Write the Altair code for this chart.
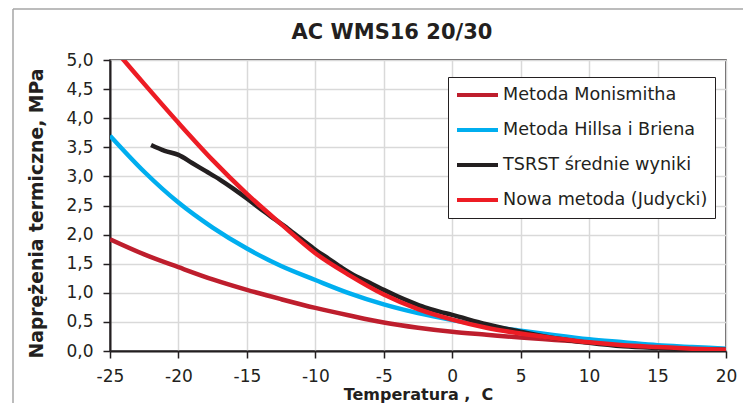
import altair as alt
import pandas as pd

# Series: temperature (C) and thermal stress (MPa)
monismith_t = [-25, -22.5, -20, -17.5, -15, -12.5, -10, -7.5, -5, -2.5, 0, 2.5, 5, 7.5, 10, 12.5, 15, 17.5, 20]
monismith_v = [1.92, 1.66, 1.44, 1.23, 1.05, 0.89, 0.74, 0.61, 0.49, 0.40, 0.33, 0.28, 0.23, 0.19, 0.15, 0.11, 0.08, 0.05, 0.03]

hills_t = [-25, -22.5, -20, -17.5, -15, -12.5, -10, -7.5, -5, -2.5, 0, 2.5, 5, 7.5, 10, 12.5, 15, 17.5, 20]
hills_v = [3.70, 3.08, 2.55, 2.12, 1.76, 1.46, 1.22, 0.99, 0.80, 0.65, 0.53, 0.43, 0.35, 0.27, 0.20, 0.15, 0.10, 0.07, 0.04]

tsrst_t = [-22, -21, -20, -19, -18, -17, -16, -15, -14, -13, -12, -11, -10, -9, -8, -7, -6, -5, -4, -3, -2, -1, 0,
           2.5, 5, 7.5, 10, 12.5, 15, 17.5, 20]
tsrst_v = [3.54, 3.44, 3.37, 3.23, 3.09, 2.95, 2.79, 2.62, 2.44, 2.27, 2.10, 1.92, 1.74, 1.58, 1.42, 1.28, 1.17, 1.05,
           0.94, 0.84, 0.75, 0.68, 0.62, 0.46, 0.33, 0.22, 0.14, 0.08, 0.05, 0.03, 0.02]

judycki_t = [-25, -24, -22.5, -20, -17.5, -15, -12.5, -10, -7.5, -5, -2.5, 0, 2.5, 5, 7.5, 10, 12.5, 15, 17.5, 20]
judycki_v = [5.27, 5.0, 4.59, 3.92, 3.28, 2.70, 2.18, 1.68, 1.30, 0.97, 0.72, 0.54, 0.40, 0.30, 0.22, 0.15, 0.10, 0.07, 0.04, 0.02]

series_names = ["Metoda Monismitha", "Metoda Hillsa i Briena", "TSRST średnie wyniki", "Nowa metoda (Judycki)"]
series_colors = ["#BE1E2D", "#00AEEF", "#231F20", "#ED1C24"]

x_ticks = [-25, -20, -15, -10, -5, 0, 5, 10, 15, 20]
y_ticks = [0, 0.5, 1, 1.5, 2, 2.5, 3, 3.5, 4, 4.5, 5]

chart_title = "AC WMS16 20/30"

rows = []
for name, ts, vs in zip(series_names,
                        [monismith_t, hills_t, tsrst_t, judycki_t],
                        [monismith_v, hills_v, tsrst_v, judycki_v]):
    for t, v in zip(ts, vs):
        rows.append({"Temperatura": t, "Naprezenie": v, "Seria": name})
df = pd.DataFrame(rows)

FONT = "DejaVu Sans"
INK = "#231F20"

lines = alt.Chart(df).mark_line(strokeWidth=4.5, interpolate="monotone", clip=True).encode(
    x=alt.X("Temperatura:Q",
            scale=alt.Scale(domain=[-25, 20], nice=False),
            axis=alt.Axis(values=x_ticks, title="Temperatura ,\u00a0\u00a0C",
                          labelExpr="datum.value + ''",
                          titleFontWeight="bold", titleFontSize=16, titlePadding=2)),
    y=alt.Y("Naprezenie:Q",
            scale=alt.Scale(domain=[0, 5], nice=False),
            axis=alt.Axis(values=y_ticks, title="Naprężenia termiczne, MPa",
                          labelExpr="replace(format(datum.value, '.1f'), '.', ',')",
                          titleFontWeight="bold", titleFontSize=18.8, titlePadding=19,
                          titleY=153)),
    color=alt.Color("Seria:N",
                    scale=alt.Scale(domain=series_names, range=series_colors),
                    sort=series_names,
                    legend=alt.Legend(title=None, orient="none", legendX=338, legendY=17,
                                      symbolType="stroke", symbolSize=1681, symbolStrokeWidth=4,
                                      labelFontSize=17.6, labelFont=FONT, labelColor=INK,
                                      labelOffset=3, clipHeight=22, rowPadding=13, padding=7,
                                      strokeColor=INK, fillColor="white", labelLimit=400)),
    order=alt.Order("seria_order:Q"),
).transform_calculate(
    seria_order="indexof(" + str(series_names) + ", datum.Seria)"
)

one = pd.DataFrame({"label": [chart_title]})
frame_left = alt.Chart(one).mark_rule(color="#A6A6A6", strokeWidth=1.5).encode(
    x=alt.value(-97), y=alt.value(-51), y2=alt.value(360))
frame_top = alt.Chart(one).mark_rule(color="#A6A6A6", strokeWidth=1.5).encode(
    x=alt.value(-97), x2=alt.value(650), y=alt.value(-51))
title_text = alt.Chart(one).mark_text(
    font=FONT, fontSize=21, fontWeight="bold", color=INK, align="center", baseline="middle"
).encode(text="label:N", x=alt.value(282), y=alt.value(-27))

chart = alt.layer(frame_left, frame_top, title_text, lines).properties(
    width=616, height=291,
    padding={"left": 110, "top": 60, "right": 17, "bottom": 52},
    autosize=alt.AutoSizeParams(type="none"),
    background="white",
).configure_view(
    stroke=INK, strokeWidth=1.5
).configure_axis(
    labelFont=FONT, titleFont=FONT, labelFontSize=17, labelColor=INK, titleColor=INK,
    domainColor=INK, domainWidth=2, tickColor=INK, tickWidth=1.5, tickSize=7,
    labelPadding=10, gridColor="#D9D9D9", gridWidth=1.5, labelFlush=False, labelOverlap=False
)

chart.save("out.html", embed_options={"renderer": "svg", "actions": False})
